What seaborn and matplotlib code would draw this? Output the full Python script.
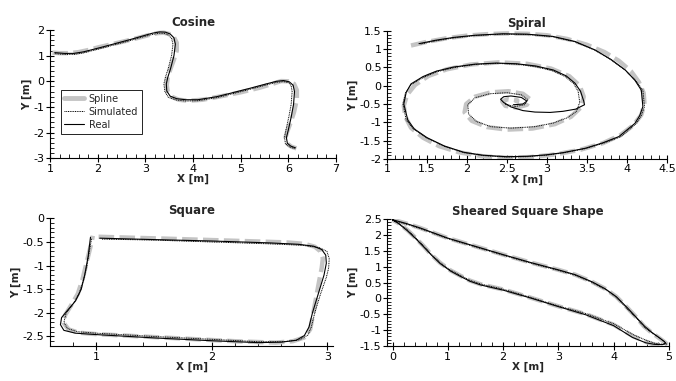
import matplotlib
matplotlib.use("Agg")
import matplotlib.pyplot as plt
from matplotlib.lines import Line2D
from matplotlib.ticker import MultipleLocator, AutoMinorLocator, FormatStrFormatter
import seaborn as sns

# ---- Cosine ----
cos_spline_x = [1.05, 1.2, 1.4, 1.6, 1.8, 2.0, 2.3, 2.6, 2.9, 3.1, 3.25, 3.38, 3.5, 3.6, 3.66, 3.66, 3.6, 3.53, 3.47, 3.45, 3.47, 3.55, 3.7, 3.9, 4.2, 4.6, 5.0, 5.4, 5.7, 5.85, 6.0, 6.12, 6.18, 6.18, 6.12, 6.05, 5.98, 5.94, 5.97, 6.06, 6.17]
cos_spline_y = [1.12, 1.1, 1.1, 1.14, 1.22, 1.32, 1.45, 1.58, 1.72, 1.82, 1.88, 1.9, 1.85, 1.72, 1.5, 1.2, 0.85, 0.5, 0.15, -0.15, -0.42, -0.6, -0.72, -0.76, -0.72, -0.58, -0.43, -0.25, -0.08, 0.01, 0.0, -0.1, -0.35, -0.7, -1.2, -1.6, -1.95, -2.2, -2.42, -2.55, -2.62]
cos_sim_x = [1.1, 1.3, 1.5, 1.7, 1.85, 2.1, 2.4, 2.7, 3.0, 3.15, 3.3, 3.4, 3.48, 3.55, 3.58, 3.55, 3.48, 3.42, 3.39, 3.41, 3.48, 3.64, 3.85, 4.1, 4.5, 4.8, 5.2, 5.5, 5.75, 5.9, 6.0, 6.06, 6.08, 6.06, 6.01, 5.95, 5.92, 5.94, 6.02, 6.13]
cos_sim_y = [1.08, 1.05, 1.05, 1.11, 1.18, 1.3, 1.45, 1.6, 1.76, 1.83, 1.88, 1.87, 1.81, 1.68, 1.45, 1.0, 0.5, 0.15, -0.1, -0.4, -0.62, -0.73, -0.77, -0.76, -0.64, -0.5, -0.31, -0.16, -0.04, -0.01, -0.05, -0.17, -0.4, -0.9, -1.4, -1.9, -2.2, -2.44, -2.56, -2.63]
cos_real_x = [1.1, 1.3, 1.5, 1.7, 1.85, 2.1, 2.4, 2.7, 3.0, 3.15, 3.3, 3.42, 3.52, 3.6, 3.63, 3.6, 3.53, 3.47, 3.44, 3.45, 3.52, 3.66, 3.85, 4.1, 4.5, 4.8, 5.2, 5.5, 5.75, 5.9, 6.02, 6.1, 6.13, 6.11, 6.06, 6.0, 5.96, 5.98, 6.05, 6.15]
cos_real_y = [1.12, 1.09, 1.09, 1.15, 1.22, 1.34, 1.49, 1.64, 1.8, 1.88, 1.93, 1.92, 1.85, 1.7, 1.45, 1.0, 0.5, 0.15, -0.1, -0.38, -0.58, -0.68, -0.72, -0.72, -0.6, -0.46, -0.27, -0.12, 0.0, 0.03, -0.02, -0.15, -0.4, -0.9, -1.4, -1.9, -2.2, -2.42, -2.53, -2.6]

# ---- Spiral ----
spi_spline_x = [1.3, 1.5, 1.75, 2.0, 2.25, 2.5, 2.75, 3.0, 3.25, 3.5, 3.72, 3.9, 4.05, 4.15, 4.21, 4.22, 4.18, 4.08, 3.92, 3.7, 3.42, 3.1, 2.8, 2.5, 2.2, 1.9, 1.65, 1.45, 1.3, 1.23, 1.21, 1.25, 1.35, 1.52, 1.75, 2.05, 2.4, 2.75, 3.05, 3.28, 3.41, 3.46, 3.43, 3.3, 3.1, 2.82, 2.5, 2.25, 2.06, 1.97, 1.99, 2.1, 2.3, 2.52, 2.7, 2.79, 2.75, 2.62, 2.48, 2.44, 2.52, 2.63, 2.62]
spi_spline_y = [1.1, 1.2, 1.3, 1.37, 1.41, 1.43, 1.42, 1.38, 1.28, 1.12, 0.92, 0.68, 0.4, 0.1, -0.2, -0.5, -0.8, -1.08, -1.35, -1.57, -1.75, -1.88, -1.95, -1.97, -1.93, -1.82, -1.65, -1.42, -1.15, -0.85, -0.55, -0.25, 0.02, 0.27, 0.45, 0.58, 0.64, 0.6, 0.47, 0.26, 0.0, -0.3, -0.58, -0.85, -1.05, -1.17, -1.2, -1.13, -0.96, -0.73, -0.5, -0.3, -0.18, -0.15, -0.22, -0.37, -0.52, -0.6, -0.55, -0.43, -0.36, -0.4, -0.48]
spi_sim_x = [1.42, 1.62, 1.85, 2.1, 2.45, 2.75, 3.07, 3.35, 3.6, 3.8, 3.98, 4.11, 4.2, 4.22, 4.18, 4.12, 3.92, 3.71, 3.48, 3.2, 2.99, 2.75, 2.49, 2.2, 1.96, 1.72, 1.5, 1.33, 1.24, 1.2, 1.23, 1.3, 1.45, 1.62, 1.85, 2.1, 2.37, 2.62, 2.86, 3.07, 3.22, 3.33, 3.39, 3.41, 3.37, 3.25, 3.08, 2.85, 2.55, 2.3, 2.12, 2.02, 2.01, 2.1, 2.28, 2.5, 2.68, 2.76, 2.72, 2.6, 2.47]
spi_sim_y = [1.14, 1.23, 1.31, 1.37, 1.41, 1.4, 1.34, 1.2, 0.97, 0.71, 0.42, 0.14, -0.12, -0.57, -0.82, -1.03, -1.4, -1.57, -1.72, -1.84, -1.9, -1.94, -1.95, -1.91, -1.83, -1.66, -1.43, -1.18, -0.94, -0.5, -0.2, 0.03, 0.22, 0.38, 0.5, 0.58, 0.61, 0.59, 0.52, 0.41, 0.26, 0.07, -0.15, -0.45, -0.7, -0.88, -1.02, -1.12, -1.16, -1.12, -0.98, -0.77, -0.52, -0.33, -0.22, -0.19, -0.25, -0.38, -0.52, -0.57, -0.5]
spi_real_x = [1.4, 1.6, 1.83, 2.1, 2.45, 2.75, 3.07, 3.35, 3.6, 3.8, 3.98, 4.1, 4.18, 4.2, 4.16, 4.1, 3.9, 3.7, 3.48, 3.2, 2.99, 2.75, 2.49, 2.2, 1.96, 1.72, 1.5, 1.34, 1.26, 1.21, 1.24, 1.3, 1.45, 1.62, 1.83, 2.1, 2.37, 2.62, 2.86, 3.08, 3.24, 3.35, 3.42, 3.46, 3.47, 3.36, 3.2, 3.04, 2.85, 2.7, 2.55, 2.46, 2.42, 2.46, 2.55, 2.68, 2.75, 2.7, 2.58]
spi_real_y = [1.15, 1.24, 1.32, 1.38, 1.42, 1.41, 1.35, 1.21, 0.98, 0.72, 0.43, 0.15, -0.12, -0.57, -0.82, -1.03, -1.39, -1.56, -1.71, -1.83, -1.89, -1.93, -1.94, -1.9, -1.82, -1.65, -1.42, -1.18, -0.94, -0.5, -0.18, 0.05, 0.25, 0.4, 0.51, 0.59, 0.62, 0.6, 0.54, 0.43, 0.27, 0.07, -0.15, -0.42, -0.52, -0.64, -0.7, -0.73, -0.72, -0.68, -0.58, -0.46, -0.37, -0.3, -0.28, -0.32, -0.42, -0.5, -0.52]

# ---- Square ----
sq_spline_x = [1.02, 1.3, 1.6, 2.0, 2.4, 2.65, 2.8, 2.89, 2.94, 2.96, 2.95, 2.93, 2.9, 2.87, 2.85, 2.8, 2.7, 2.55, 2.2, 1.8, 1.4, 1.0, 0.85, 0.76, 0.72, 0.73, 0.78, 0.84, 0.88, 0.91, 0.94, 0.96, 0.97]
sq_spline_y = [-0.39, -0.41, -0.43, -0.46, -0.49, -0.51, -0.54, -0.6, -0.7, -0.85, -1.05, -1.3, -1.7, -2.1, -2.35, -2.52, -2.6, -2.63, -2.6, -2.55, -2.5, -2.45, -2.42, -2.35, -2.22, -2.05, -1.85, -1.6, -1.3, -1.0, -0.7, -0.5, -0.37]
sq_sim_x = [1.05, 1.5, 2.0, 2.5, 2.78, 2.93, 2.995, 3.015, 3.01, 2.99, 2.94, 2.89, 2.86, 2.83, 2.76, 2.62, 2.4, 2.0, 1.5, 1.0, 0.84, 0.75, 0.72, 0.74, 0.79, 0.85, 0.89, 0.92, 0.94, 0.96]
sq_sim_y = [-0.44, -0.46, -0.5, -0.54, -0.57, -0.62, -0.7, -0.85, -1.05, -1.25, -1.6, -2.0, -2.3, -2.47, -2.57, -2.61, -2.61, -2.56, -2.5, -2.43, -2.4, -2.33, -2.2, -2.0, -1.85, -1.6, -1.3, -1.0, -0.7, -0.42]
sq_real_x = [1.03, 1.5, 2.0, 2.5, 2.75, 2.88, 2.95, 2.985, 2.99, 2.97, 2.92, 2.87, 2.84, 2.8, 2.73, 2.6, 2.4, 2.0, 1.5, 1.0, 0.82, 0.72, 0.69, 0.7, 0.75, 0.82, 0.87, 0.9, 0.93, 0.95]
sq_real_y = [-0.42, -0.45, -0.48, -0.52, -0.55, -0.59, -0.66, -0.78, -0.95, -1.2, -1.6, -2.0, -2.3, -2.48, -2.58, -2.62, -2.63, -2.59, -2.53, -2.46, -2.43, -2.37, -2.25, -2.1, -1.95, -1.75, -1.5, -1.2, -0.8, -0.4]

# ---- Sheared square ----
sh_spline_x = [0.0, 0.25, 0.5, 0.75, 1.0, 1.5, 2.0, 2.5, 3.0, 3.3, 3.6, 3.85, 4.05, 4.25, 4.4, 4.55, 4.68, 4.8, 4.9, 4.95, 4.9, 4.75, 4.6, 4.36, 4.0, 3.5, 3.0, 2.5, 2.0, 1.8, 1.6, 1.4, 1.22, 1.05, 0.86, 0.7, 0.56, 0.42, 0.27, 0.1, 0.0]
sh_spline_y = [2.48, 2.36, 2.22, 2.06, 1.9, 1.64, 1.38, 1.13, 0.9, 0.75, 0.53, 0.3, 0.05, -0.3, -0.58, -0.88, -1.07, -1.22, -1.35, -1.42, -1.47, -1.46, -1.38, -1.2, -0.83, -0.5, -0.25, 0.02, 0.28, 0.36, 0.44, 0.56, 0.72, 0.88, 1.12, 1.38, 1.65, 1.9, 2.15, 2.38, 2.48]
sh_sim_x = [0.0, 0.25, 0.5, 0.75, 1.0, 1.5, 2.0, 2.5, 3.0, 3.3, 3.6, 3.85, 4.05, 4.24, 4.4, 4.55, 4.69, 4.82, 4.92, 4.96, 4.9, 4.75, 4.6, 4.36, 4.0, 3.5, 3.0, 2.5, 2.0, 1.8, 1.6, 1.4, 1.22, 1.05, 0.86, 0.7, 0.56, 0.42, 0.27, 0.1, 0.0]
sh_sim_y = [2.46, 2.34, 2.2, 2.04, 1.88, 1.62, 1.36, 1.11, 0.88, 0.73, 0.51, 0.28, 0.03, -0.32, -0.6, -0.9, -1.09, -1.24, -1.37, -1.44, -1.45, -1.42, -1.33, -1.15, -0.8, -0.48, -0.24, 0.03, 0.29, 0.37, 0.45, 0.57, 0.73, 0.89, 1.13, 1.39, 1.66, 1.91, 2.16, 2.38, 2.46]
sh_real_x = [0.0, 0.25, 0.5, 0.75, 1.0, 1.5, 2.0, 2.5, 3.0, 3.3, 3.6, 3.85, 4.05, 4.25, 4.4, 4.56, 4.69, 4.81, 4.91, 4.94, 4.88, 4.74, 4.58, 4.34, 4.0, 3.5, 3.0, 2.5, 2.0, 1.8, 1.6, 1.4, 1.22, 1.05, 0.86, 0.7, 0.56, 0.42, 0.27, 0.1, 0.0]
sh_real_y = [2.48, 2.36, 2.22, 2.06, 1.9, 1.64, 1.38, 1.13, 0.9, 0.75, 0.53, 0.3, 0.05, -0.3, -0.58, -0.88, -1.07, -1.22, -1.35, -1.41, -1.46, -1.45, -1.4, -1.23, -0.86, -0.52, -0.26, 0.01, 0.26, 0.34, 0.42, 0.54, 0.7, 0.86, 1.1, 1.37, 1.63, 1.88, 2.13, 2.37, 2.48]

panels = [
    ("Cosine", cos_spline_x, cos_spline_y, cos_sim_x, cos_sim_y, cos_real_x, cos_real_y,
     (1, 7), (-3, 2), 1, 1, [0.074, 0.585, 0.423, 0.336]),
    ("Spiral", spi_spline_x, spi_spline_y, spi_sim_x, spi_sim_y, spi_real_x, spi_real_y,
     (1, 4.5), (-2, 1.5), 0.5, 0.5, [0.5725, 0.583, 0.414, 0.336]),
    ("Square", sq_spline_x, sq_spline_y, sq_sim_x, sq_sim_y, sq_real_x, sq_real_y,
     (0.6, 3.05), (-2.7, 0), 1, 0.5, [0.074, 0.092, 0.419, 0.335]),
    ("Sheared Square Shape", sh_spline_x, sh_spline_y, sh_sim_x, sh_sim_y, sh_real_x, sh_real_y,
     (-0.1, 5), (-1.5, 2.5), 1, 0.5, [0.5725, 0.092, 0.417, 0.333]),
]

sns.set_style("ticks")
plt.rcParams['font.family'] = ['DejaVu Sans']

fig = plt.figure(figsize=(6.76, 3.81), dpi=100)

spline_style = dict(color="#c4c4c4", linewidth=3.2, linestyle=(0, (3.5, 1.2)))
sim_style = dict(color="black", linewidth=0.7, linestyle=(0, (1, 0.8)))
real_style = dict(color="black", linewidth=0.8, linestyle="-")

for i, (title, spx, spy, smx, smy, rx, ry, xlim, ylim, xmaj, ymaj, pos) in enumerate(panels):
    ax = fig.add_axes(pos)
    sns.lineplot(x=spx, y=spy, sort=False, estimator=None, ax=ax, **spline_style)
    sns.lineplot(x=smx, y=smy, sort=False, estimator=None, ax=ax, **sim_style)
    sns.lineplot(x=rx, y=ry, sort=False, estimator=None, ax=ax, **real_style)

    ax.set_xlim(*xlim)
    ax.set_ylim(*ylim)
    ax.xaxis.set_major_locator(MultipleLocator(xmaj))
    ax.yaxis.set_major_locator(MultipleLocator(ymaj))
    ax.xaxis.set_minor_locator(AutoMinorLocator(5))
    ax.yaxis.set_minor_locator(AutoMinorLocator(5))
    ax.xaxis.set_major_formatter(FormatStrFormatter('%g'))
    ax.yaxis.set_major_formatter(FormatStrFormatter('%g'))
    sns.despine(ax=ax)
    for sp in ["left", "bottom"]:
        ax.spines[sp].set_linewidth(0.8)
        ax.spines[sp].set_color("black")
    ax.tick_params(which="major", direction="inout", length=6, width=0.8, labelsize=8, pad=1, colors="black")
    ax.tick_params(which="minor", direction="in", length=3, width=0.6, colors="black")
    ax.set_title(title, fontsize=8.5, fontweight="bold", pad=3)
    ax.set_xlabel("X [m]", fontsize=7.5, fontweight="bold", labelpad=0)
    ax.set_ylabel("Y [m]", fontsize=7.5, fontweight="bold", labelpad=1)

    if i == 0:
        handles = [
            Line2D([], [], color="#c4c4c4", linewidth=3.5),
            Line2D([], [], **sim_style),
            Line2D([], [], **real_style),
        ]
        leg = ax.legend(handles, ["Spline", "Simulated", "Real"], loc="upper left",
                        bbox_to_anchor=(0.02, 0.57), fontsize=7, frameon=True, fancybox=False,
                        edgecolor="black", framealpha=1, handlelength=2, borderpad=0.4,
                        labelspacing=0.3, handletextpad=0.5)
        leg.get_frame().set_linewidth(0.6)

fig.savefig("out.png", dpi=100)
